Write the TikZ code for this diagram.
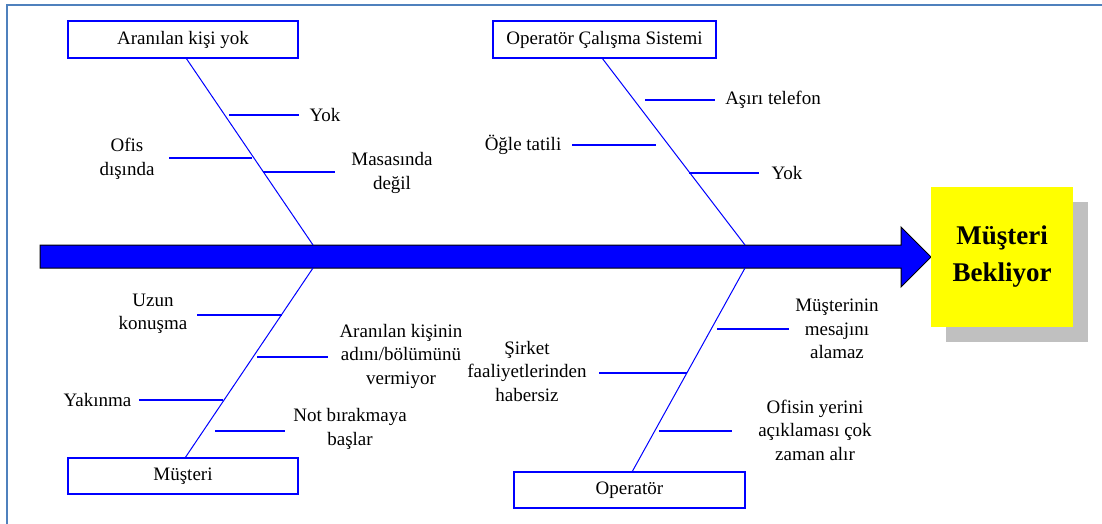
\documentclass[tikz,border=0pt]{standalone}
\usepackage{fontspec}
\setmainfont{Liberation Serif}
\definecolor{frameblue}{RGB}{79,129,189}
\definecolor{shadowgray}{RGB}{192,192,192}
\definecolor{bonblue}{RGB}{0,0,255}
\definecolor{boxyellow}{RGB}{255,255,0}
\tikzset{
  catbox/.style={draw=bonblue, line width=1.5pt, fill=white, minimum height=37pt,
    inner sep=0pt, font=\fontsize{19}{23}\selectfont},
  lbl/.style={align=center, inner sep=0pt, font=\fontsize{19}{23.5}\selectfont},
  bone/.style={draw=bonblue, line width=1pt},
  twig/.style={draw=bonblue, line width=1.5pt},
}
\begin{document}
\begin{tikzpicture}[x=1pt,y=-1pt]
\useasboundingbox (0,0) rectangle (1102,524);
% frame
\draw[frameblue, line width=2pt] (7,524) -- (7,5) -- (1102,5);

% spine arrow
\coordinate (tail) at (40,256.5);
\coordinate (tip) at (931,257);
\filldraw[fill=bonblue, draw=black, line width=1pt]
  (40,245) -- (901,245) -- (901,227) -- (tip) -- (901,287) -- (901,268) -- (40,268) -- cycle;

% effect box
\fill[shadowgray] (946,202) rectangle (1088,342);
\node[fill=boxyellow, minimum width=142pt, minimum height=140pt, inner sep=0pt, align=center,
  font=\fontsize{27}{37}\selectfont\bfseries] (effect) at (1002,257) {Müşteri\\Bekliyor};

% category boxes
\node[catbox, minimum width=230pt] (c1) at (183,39.5) {Aranılan kişi yok};
\node[catbox, minimum width=223pt] (c2) at (604.5,39.5) {Operatör Çalışma Sistemi};
\node[catbox, minimum width=230pt, minimum height=36pt] (c3) at (183,476) {Müşteri};
\node[catbox, minimum width=231pt, minimum height=36pt] (c4) at (629.5,490) {Operatör};

% spine joints
\coordinate (j1) at (313,245);
\coordinate (j2) at (745,245);
\coordinate (j3) at (313,268);
\coordinate (j4) at (745,268);

% main bones
\draw[bone] (186,58) -- (j1);
\draw[bone] (602,58) -- (j2);
\draw[bone] (185,458) -- (j3);
\draw[bone] (632,472) -- (j4);

% --- Aranılan kişi yok
\node[lbl] (a1) at (325,115) {Yok};
\node[lbl] (a2) at (127,159) {Ofis\\dışında};
\node[lbl] (a3) at (392,173) {Masasında\\değil};
\coordinate (a1s) at (229,115); \coordinate (a1e) at (299,115);
\coordinate (a2s) at (169,158); \coordinate (a2e) at (252,158);
\coordinate (a3s) at (263,172); \coordinate (a3e) at (335,172);
\draw[twig] (a1s) -- (a1e);
\draw[twig] (a2s) -- (a2e);
\draw[twig] (a3s) -- (a3e);

% --- Operatör Çalışma Sistemi
\node[lbl] (b1) at (773,100) {Aşırı telefon};
\node[lbl] (b2) at (523,145) {Öğle tatili};
\node[lbl] (b3) at (787,173) {Yok};
\coordinate (b1s) at (645,100); \coordinate (b1e) at (715,100);
\coordinate (b2s) at (572,145); \coordinate (b2e) at (656,145);
\coordinate (b3s) at (689,173); \coordinate (b3e) at (759,173);
\draw[twig] (b1s) -- (b1e);
\draw[twig] (b2s) -- (b2e);
\draw[twig] (b3s) -- (b3e);

% --- Müşteri
\node[lbl] (m1) at (153,314) {Uzun\\konuşma};
\node[lbl] (m2) at (401,356) {Aranılan kişinin\\adını/bölümünü\\vermiyor};
\node[lbl] (m3) at (97.5,400) {Yakınma};
\node[lbl] (m4) at (350,429) {Not bırakmaya\\başlar};
\coordinate (m1s) at (197,315); \coordinate (m1e) at (282,315);
\coordinate (m2s) at (257,357); \coordinate (m2e) at (328,357);
\coordinate (m3s) at (139,400); \coordinate (m3e) at (223,400);
\coordinate (m4s) at (215,431); \coordinate (m4e) at (285,431);
\draw[twig] (m1s) -- (m1e);
\draw[twig] (m2s) -- (m2e);
\draw[twig] (m3s) -- (m3e);
\draw[twig] (m4s) -- (m4e);

% --- Operatör
\node[lbl] (o1) at (837,329) {Müşterinin\\mesajını\\alamaz};
\node[lbl] (o2) at (527,371) {Şirket\\faaliyetlerinden\\habersiz};
\node[lbl] (o3) at (815,430) {Ofisin yerini\\açıklaması çok\\zaman alır};
\coordinate (o1s) at (717,329); \coordinate (o1e) at (789,329);
\coordinate (o2s) at (599,373); \coordinate (o2e) at (687,373);
\coordinate (o3s) at (659,431); \coordinate (o3e) at (732,431);
\draw[twig] (o1s) -- (o1e);
\draw[twig] (o2s) -- (o2e);
\draw[twig] (o3s) -- (o3e);
\end{tikzpicture}
\end{document}
